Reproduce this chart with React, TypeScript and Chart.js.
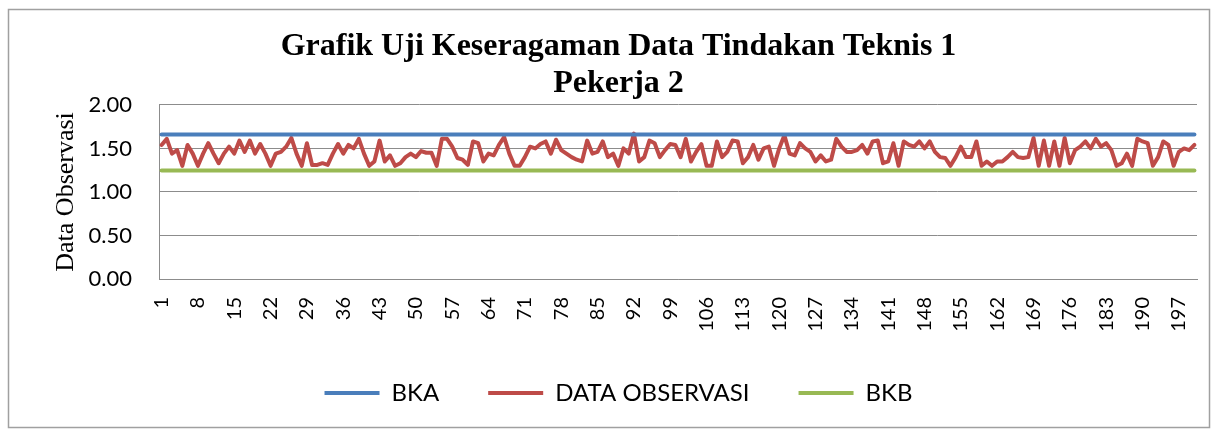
import React, { useEffect, useRef } from "react";
import { Chart, registerables } from "chart.js";

Chart.register(...registerables);

const TITLE_LINES = ["Grafik Uji Keseragaman Data Tindakan Teknis 1", "Pekerja 2"];
const Y_TITLE = "Data Observasi";
const SERIES_NAMES = ["BKA", "DATA OBSERVASI", "BKB"];

const categories: string[] = Array.from({ length: 200 }, (_, i) => String(i + 1));

const dataObservasi: number[] = [
  1.54, 1.61, 1.44, 1.48, 1.30, 1.54, 1.44, 1.30, 1.44, 1.56,
  1.44, 1.33, 1.44, 1.52, 1.44, 1.59, 1.46, 1.59, 1.44, 1.55,
  1.44, 1.30, 1.44, 1.46, 1.52, 1.62, 1.44, 1.30, 1.56, 1.31,
  1.31, 1.33, 1.31, 1.44, 1.55, 1.44, 1.54, 1.50, 1.61, 1.44,
  1.30, 1.35, 1.59, 1.35, 1.42, 1.30, 1.33, 1.40, 1.44, 1.40,
  1.47, 1.45, 1.45, 1.30, 1.61, 1.61, 1.52, 1.39, 1.37, 1.31,
  1.58, 1.56, 1.35, 1.44, 1.42, 1.54, 1.63, 1.44, 1.30, 1.30,
  1.40, 1.52, 1.50, 1.55, 1.58, 1.44, 1.60, 1.48, 1.44, 1.40,
  1.37, 1.35, 1.59, 1.44, 1.46, 1.58, 1.40, 1.44, 1.30, 1.50,
  1.44, 1.67, 1.35, 1.40, 1.59, 1.56, 1.40, 1.48, 1.55, 1.54,
  1.40, 1.61, 1.35, 1.46, 1.55, 1.30, 1.30, 1.58, 1.40, 1.46,
  1.59, 1.58, 1.33, 1.40, 1.54, 1.37, 1.50, 1.52, 1.30, 1.50,
  1.65, 1.44, 1.42, 1.56, 1.50, 1.46, 1.35, 1.42, 1.35, 1.37,
  1.61, 1.52, 1.46, 1.46, 1.48, 1.54, 1.44, 1.58, 1.59, 1.33,
  1.35, 1.56, 1.30, 1.58, 1.54, 1.52, 1.58, 1.50, 1.58, 1.46,
  1.40, 1.39, 1.30, 1.40, 1.52, 1.40, 1.40, 1.58, 1.30, 1.35,
  1.30, 1.35, 1.35, 1.40, 1.46, 1.40, 1.39, 1.40, 1.62, 1.30,
  1.59, 1.30, 1.58, 1.30, 1.62, 1.33, 1.48, 1.52, 1.58, 1.50,
  1.61, 1.52, 1.56, 1.48, 1.30, 1.33, 1.44, 1.30, 1.61, 1.58,
  1.56, 1.30, 1.40, 1.58, 1.54, 1.30, 1.46, 1.50, 1.48, 1.54,
];

const BKA_VALUE = 1.66;
const BKB_VALUE = 1.245;

const Y_MIN = 0;
const Y_MAX = 2;
const Y_STEP = 0.5;
const X_LABEL_EVERY = 7;

const COLORS = { bka: "#4A7EBB", data: "#BE4B48", bkb: "#98B954", grid: "#8C8C8C" };

export default function App() {
  const ref = useRef<HTMLCanvasElement | null>(null);

  useEffect(() => {
    if (!ref.current) return;
    const framePlugin = {
      id: "frame",
      beforeDraw(c: any) {
        const ctx = c.ctx;
        ctx.save();
        ctx.fillStyle = "#ffffff";
        ctx.fillRect(0, 0, c.width, c.height);
        ctx.strokeStyle = "#a0a0a0";
        ctx.lineWidth = 1.5;
        ctx.strokeRect(8.5, 9.5, 1201, 418);
        ctx.restore();
      },
    };

    const lineCommon = {
      borderWidth: 4,
      pointRadius: 0,
      pointHoverRadius: 0,
      tension: 0,
      fill: false,
      borderCapStyle: "round" as const,
      borderJoinStyle: "round" as const,
    };

    const chart = new Chart(ref.current, {
      type: "line",
      data: {
        labels: categories,
        datasets: [
          { ...lineCommon, label: SERIES_NAMES[0], data: categories.map(() => BKA_VALUE), borderColor: COLORS.bka, backgroundColor: COLORS.bka },
          { ...lineCommon, label: SERIES_NAMES[1], data: dataObservasi, borderColor: COLORS.data, backgroundColor: COLORS.data },
          { ...lineCommon, label: SERIES_NAMES[2], data: categories.map(() => BKB_VALUE), borderColor: COLORS.bkb, backgroundColor: COLORS.bkb },
        ],
      },
      options: {
        responsive: false,
        animation: false,
        devicePixelRatio: 1,
        layout: { autoPadding: false, padding: { left: 23, right: 0, top: 0, bottom: 15 } },
        plugins: {
          title: {
            display: true,
            text: TITLE_LINES,
            color: "#000",
            font: { family: "Liberation Serif", size: 32, weight: "bold", lineHeight: 1.17 },
            padding: { top: 28, bottom: 2 },
          },
          legend: {
            position: "bottom",
            labels: {
              usePointStyle: true,
              pointStyle: "line",
              pointStyleWidth: 55,
              boxHeight: 4,
              padding: 49,
              color: "#000",
              font: { family: "Lato", size: 24 },
            },
          },
          tooltip: { enabled: false },
        },
        scales: {
          x: {
            offset: true,
            grid: { display: false, drawTicks: false },
            border: { display: true, color: COLORS.grid, width: 1 },
            ticks: {
              autoSkip: false,
              minRotation: 90,
              maxRotation: 90,
              padding: 18,
              color: "#000",
              font: { family: "Lato", size: 20 },
              callback: (_v: any, i: number) => (i % X_LABEL_EVERY === 0 ? categories[i] : ""),
            },
            afterFit: (s: any) => {
              s.height = 53;
              s.paddingLeft = 0;
              s.paddingRight = 0;
            },
          },
          y: {
            min: Y_MIN,
            max: Y_MAX,
            ticks: {
              stepSize: Y_STEP,
              padding: 27,
              color: "#000",
              font: { family: "Lato", size: 22 },
              callback: (v: any) => Number(v).toFixed(2),
            },
            grid: { color: COLORS.grid, drawTicks: false, lineWidth: 1 },
            border: { display: true, color: COLORS.grid, width: 1 },
            title: {
              display: true,
              text: Y_TITLE,
              color: "#000",
              font: { family: "Liberation Serif", size: 26 },
              padding: { top: 28, bottom: 0 },
            },
            afterFit: (s: any) => {
              s.width = 136;
              s.paddingTop = 0;
              s.paddingBottom = 0;
            },
          },
          yRight: {
            type: "linear",
            position: "right",
            display: true,
            grid: { display: false, drawTicks: false },
            border: { display: false },
            ticks: { display: false },
            afterFit: (s: any) => {
              s.width = 17;
              s.paddingTop = 0;
              s.paddingBottom = 0;
            },
          },
        },
      },
      plugins: [framePlugin],
    });
    return () => chart.destroy();
  }, []);

  return (
    <div style={{ position: "absolute", left: 0, top: 0, width: 1214, height: 430 }}>
      <canvas ref={ref} width={1214} height={430} style={{ display: "block" }} />
    </div>
  );
}
